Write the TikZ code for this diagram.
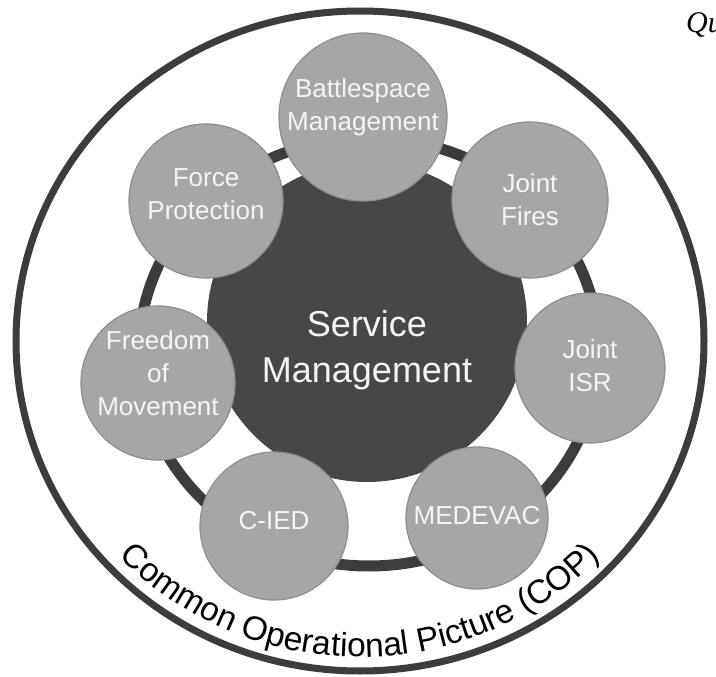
\documentclass[tikz,border=0pt]{standalone}
\usepackage{fontspec}
\setmainfont{Liberation Sans}
\newfontfamily\quotefont{Liberation Serif}
\usetikzlibrary{decorations.text}

\definecolor{ringdark}{HTML}{3C3C3C}
\definecolor{hubdark}{HTML}{474747}
\definecolor{topicgray}{HTML}{A6A6A6}
\definecolor{topicedge}{HTML}{8E8E8E}
\definecolor{labelwhite}{HTML}{F4F4F4}

\tikzset{
  topic/.style={circle, fill=topicgray, draw=topicedge, line width=1.2pt, inner sep=0pt},
  topictext/.style={text=labelwhite, align=center, inner sep=0pt,
    font=\fontsize{26}{33}\selectfont},
  hub/.style={circle, fill=hubdark, inner sep=0pt, minimum size=320},
  hubtext/.style={text=labelwhite, align=center, inner sep=0pt,
    font=\fontsize{36}{46}\selectfont},
}

\begin{document}
\begin{tikzpicture}[x=1pt, y=1pt]
  \useasboundingbox (0,0) rectangle (716,-677);
  \fill[white] (0,0) rectangle (716,-677);

  % outer boundary of the operational picture
  \draw[ringdark, line width=7] (360,-341) ellipse [x radius=344, y radius=330];

  % ring linking the capability areas
  \draw[ringdark, line width=11] (369,-352) ellipse [x radius=230, y radius=214];

  % central hub
  \node[hub] (hub) at (367,-322) {};
  \node[hubtext] (hub-t) at (367,-350) {Service\\Management};

  % capability areas around the hub
  \node[topic, minimum size=168] (bsm) at (363,-117) {};
  \node[topic, minimum size=156] (jf)  at (530,-200) {};
  \node[topic, minimum size=150] (isr) at (590,-368) {};
  \node[topic, minimum size=142] (med) at (477,-518) {};
  \node[topic, minimum size=148] (ied) at (274,-526) {};
  \node[topic, minimum size=154] (fom) at (158,-383) {};
  \node[topic, minimum size=154] (fp)  at (206,-201) {};

  \node[topictext] (bsm-t) at ([yshift=10]bsm.center) {Battlespace\\Management};
  \node[topictext] (jf-t)  at (jf.center) {Joint\\Fires};
  \node[topictext] (isr-t) at ([yshift=2]isr.center) {Joint\\ISR};
  \node[topictext] (med-t) at ([yshift=2]med.center) {MEDEVAC};
  \node[topictext] (ied-t) at ([yshift=5]ied.center) {C-IED};
  \node[topictext] (fom-t) at ([yshift=10]fom.center) {Freedom\\of\\Movement};
  \node[topictext] (fp-t)  at ([yshift=7]fp.center) {Force\\Protection};

  % title running along the lower rim
  \path[decorate, decoration={text along path, text align=center,
      text={|\fontsize{33.5}{33.5}\selectfont|Common Operational Picture (COP)}}]
    (360,-341) ++(200:329 and 316)
    arc[start angle=200, end angle=340, x radius=329, y radius=316];

  % running page text in the corner
  \node[anchor=base west, inner sep=0pt, font=\quotefont\itshape\fontsize{30}{30}\selectfont]
    (qu) at (686,-33) {Qu};
\end{tikzpicture}
\end{document}
